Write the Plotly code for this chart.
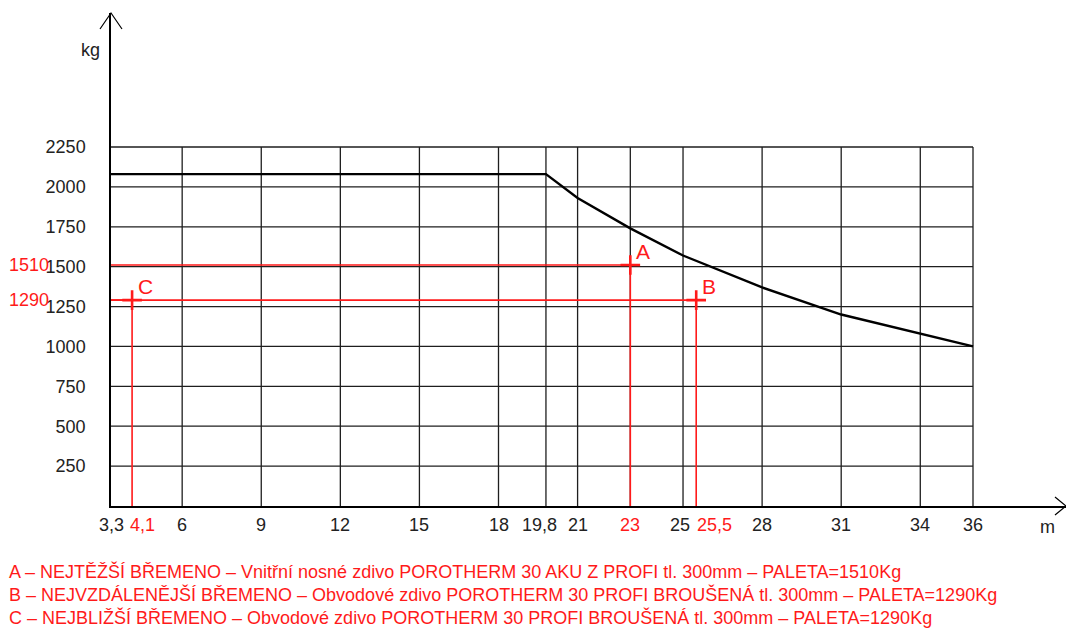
import plotly.graph_objects as go

# ---------------- data ----------------
curve_x = [3.3, 19.8, 21, 23, 25, 28, 31, 34, 36]
curve_y = [2080, 2080, 1930, 1740, 1570, 1370, 1200, 1080, 1000]

grid_x = [3.3, 6, 9, 12, 15, 18, 19.8, 21, 23, 25, 28, 31, 34, 36]
grid_y = [0, 250, 500, 750, 1000, 1250, 1500, 1750, 2000, 2250]

x_tick_vals = [3.3, 4.1, 6, 9, 12, 15, 18, 19.8, 21, 23, 25, 25.5, 28, 31, 34, 36]
x_tick_text = ["3,3", "4,1", "6", "9", "12", "15", "18", "19,8", "21", "23", "25", "25,5", "28", "31", "34", "36"]
x_tick_red = [False, True, False, False, False, False, False, False, False, True, False, True, False, False, False, False]

load_names = ["A", "B", "C"]
load_x = [23, 25.5, 4.1]
load_y = [1510, 1290, 1290]
load_y_labels = ["1510", "1290"]
load_y_label_vals = [1510, 1290]

legend_lines = [
    "A – NEJTĚŽŠÍ BŘEMENO – Vnitřní nosné zdivo POROTHERM 30 AKU Z PROFI tl. 300mm – PALETA=1510Kg",
    "B – NEJVZDÁLENĚJŠÍ BŘEMENO – Obvodové zdivo POROTHERM 30 PROFI BROUŠENÁ tl. 300mm – PALETA=1290Kg",
    "C – NEJBLIŽŠÍ BŘEMENO – Obvodové zdivo POROTHERM 30 PROFI BROUŠENÁ tl. 300mm – PALETA=1290Kg",
]

# ---------------- layout geometry ----------------
W, H = 1066, 630
ML, MT, MB, MR = 111, 13, 124, 0
PW, PH = W - ML - MR, H - MT - MB
x_min, x_max = min(grid_x), max(grid_x)
y_min, y_max = min(grid_y), max(grid_y)
sx = 862 / (x_max - x_min)        # px per metre
sy = 359 / (y_max - y_min)        # px per kg
xr = [x_min, x_min + PW / sx]
yr = [0, PH / sy]

FONT = "Liberation Sans, Arial, sans-serif"
RED = "#ff1a1a"
GRID = "#1e1e1e"
NUM = 18

fig = go.Figure()

shapes = []
# grid (bounded frame)
for gy in grid_y[1:]:
    shapes.append(dict(type="line", xref="x", yref="y", x0=x_min, x1=x_max, y0=gy, y1=gy,
                       line=dict(color=GRID, width=1.3), layer="below"))
for gx in grid_x[1:]:
    shapes.append(dict(type="line", xref="x", yref="y", x0=gx, x1=gx, y0=0, y1=y_max,
                       line=dict(color=GRID, width=1.3), layer="below"))

# arrowheads on axes (open chevrons, paper coordinates so they are not clipped)
ax, ay = 11 / PW, 16 / PH
shapes.append(dict(type="path", xref="paper", yref="paper",
                   path=f"M {-ax},{1 - ay} L 0,1 L {ax},{1 - ay}",
                   line=dict(color="black", width=1.2)))
bx, by = 11 / PW, 9 / PH
shapes.append(dict(type="path", xref="paper", yref="paper",
                   path=f"M {1 - bx},{by} L 1,0 L {1 - bx},{-by}",
                   line=dict(color="black", width=1.2)))

# red guide lines for loads
for n, lx, ly in zip(load_names, load_x, load_y):
    fig.add_trace(go.Scatter(x=[x_min, lx, lx], y=[ly, ly, 0], mode="lines",
                             line=dict(color=RED, width=1.6), hoverinfo="skip", showlegend=False))

# capacity curve
fig.add_trace(go.Scatter(x=curve_x, y=curve_y, mode="lines",
                         line=dict(color="black", width=2.4), showlegend=False))

# load markers
fig.add_trace(go.Scatter(x=load_x, y=load_y, mode="markers",
                         marker=dict(symbol="cross-thin", size=14, line=dict(color=RED, width=2.6)),
                         showlegend=False, cliponaxis=False))

ann = []
for n, lx, ly in zip(load_names, load_x, load_y):
    ann.append(dict(x=lx, y=ly, xref="x", yref="y", text=n, showarrow=False,
                    xanchor="left", yanchor="bottom", xshift=4, yshift=0,
                    font=dict(family=FONT, size=21, color=RED)))

# x tick labels
xshift = {"4,1": 10, "19,8": -6, "25": -3, "25,5": 18}
for v, t, r in zip(x_tick_vals, x_tick_text, x_tick_red):
    ann.append(dict(x=v, y=0, xref="x", yref="y", text=t, showarrow=False,
                    xanchor="center", yanchor="top", yshift=-7, xshift=xshift.get(t, 0),
                    font=dict(family=FONT, size=NUM, color=RED if r else "#222")))

# red y labels
for t, v in zip(load_y_labels, load_y_label_vals):
    ann.append(dict(x=0, y=v, xref="paper", yref="y", text=t, showarrow=False,
                    xanchor="right", yanchor="middle", xshift=-60,
                    font=dict(family=FONT, size=NUM, color=RED)))

# axis units
ann.append(dict(x=0, y=1, xref="paper", yref="paper", text="kg", showarrow=False,
                xanchor="right", yanchor="top", xshift=-9, yshift=-25,
                font=dict(family=FONT, size=NUM, color="#222")))
ann.append(dict(x=1, y=0, xref="paper", yref="paper", text="m", showarrow=False,
                xanchor="right", yanchor="top", xshift=-9, yshift=-9,
                font=dict(family=FONT, size=NUM, color="#222")))

# bottom legend text
for i, line in enumerate(legend_lines):
    ann.append(dict(x=0, y=0, xref="paper", yref="paper", text=line, showarrow=False,
                    xanchor="left", yanchor="middle", xshift=7 - ML, yshift=-(65 + 23 * i),
                    font=dict(family=FONT, size=18, color=RED)))

fig.update_layout(
    width=W, height=H,
    margin=dict(l=ML, r=MR, t=MT, b=MB, pad=0),
    plot_bgcolor="white", paper_bgcolor="white",
    shapes=shapes, annotations=ann,
    xaxis=dict(range=xr, showgrid=False, zeroline=False, showline=True, linecolor="black",
               linewidth=1.5, showticklabels=False, ticks=""),
    yaxis=dict(range=yr, showgrid=False, zeroline=False, showline=True, linecolor="black",
               linewidth=1.5, tickvals=grid_y[1:], ticktext=[str(v) for v in grid_y[1:]],
               ticks="", ticklabelstandoff=20,
               tickfont=dict(family=FONT, size=NUM, color="#222")),
)

fig.write_html("out.html", config={"displayModeBar": False},
               post_script="document.body.style.margin='0';")
